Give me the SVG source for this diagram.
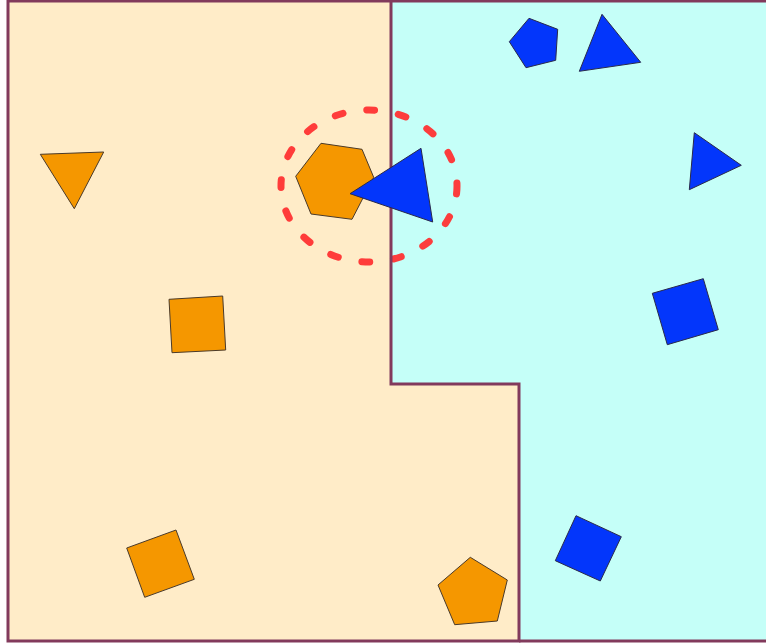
<svg xmlns="http://www.w3.org/2000/svg" width="766" height="644" viewBox="0 0 766 644">
<style>
.rl{fill:#ffecc8}
.rr{fill:#c5fff8}
.bd{fill:none;stroke:#823a5c;stroke-width:3;stroke-linejoin:miter}
.o{fill:#f59700;stroke:#4a3a2a;stroke-width:1}
.b{fill:#0336fb;stroke:#2a2a4a;stroke-width:1}
.hl{fill:none;stroke:#ff3333;stroke-opacity:0.95;stroke-width:7;stroke-linecap:round;stroke-dasharray:8 24}
</style>
<rect x="0" y="0" width="766" height="644" fill="#ffffff"/>
<g id="regions">
<path class="rl" d="M8,1 L391,1 L391,384 L519,384 L519,641 L8,641 Z"/>
<path class="rr" d="M391,1 L768,1 L768,641 L519,641 L519,384 L391,384 Z"/>
</g>
<g id="highlight">
<ellipse class="hl" cx="369" cy="186" rx="88" ry="76"/>
</g>
<g id="borders">
<path class="bd" d="M8,1 L391,1 L391,384 L519,384 L519,641 L8,641 Z"/>
<path class="bd" d="M391,1 L768,1 M519,641 L768,641"/>
</g>
<g id="shapes">
<polygon id="hexagon" class="o" points="321,143.3 362,149.3 373.7,177.3 352,219.3 311,214 295.7,176.3"/>
<polygon id="tri-center" class="b" points="421,148.3 432.7,222 350,193.7"/>
<polygon id="tri-orange" class="o" points="40.3,154.3 103.7,152 74.3,208.7"/>
<polygon id="sq-orange1" class="o" points="169,299.3 222.7,296 225.7,350 172,352.7"/>
<polygon id="sq-orange2" class="o" points="126.7,548 176,530 194.3,579.3 144.7,597.3"/>
<polygon id="pent-orange" class="o" points="470.3,557.3 507.3,580 497.3,621 454.7,624.7 438,585"/>
<polygon id="pent-blue" class="b" points="529,18.3 557.7,29.3 555.7,60.3 526,67.7 509.3,41.7"/>
<polygon id="tri-blue1" class="b" points="602,14.3 640.7,62.3 579.3,71.3"/>
<polygon id="tri-blue2" class="b" points="694.3,132.7 741.3,165.3 689.3,189.7"/>
<polygon id="sq-blue1" class="b" points="652.3,293.3 703.3,278.7 718.3,329.7 667.3,344.7"/>
<polygon id="sq-blue2" class="b" points="576,515.7 621.3,536.7 600.3,581 555.3,560.7"/>
</g>
</svg>
